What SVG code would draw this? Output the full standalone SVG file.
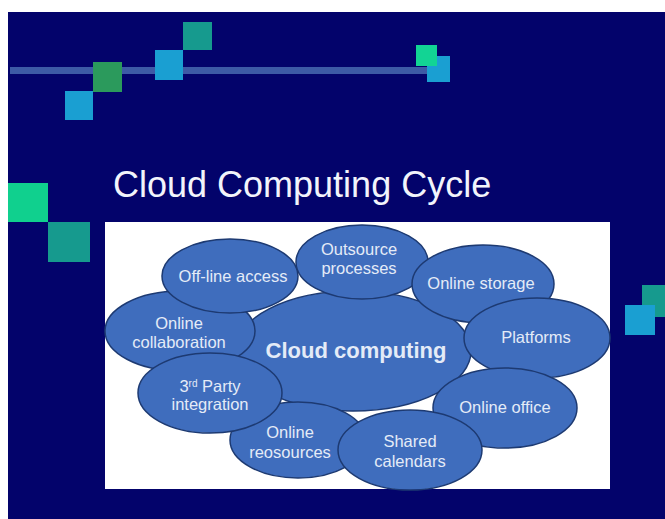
<svg xmlns="http://www.w3.org/2000/svg" width="665" height="519" viewBox="0 0 665 519">
  <style>
    .bubble { fill: #3f6dbd; stroke: #1d3a72; stroke-width: 1.5; }
    .lbl { font-family: "Liberation Sans", Arial, sans-serif; font-size: 16.5px; fill: #e4ebf7; text-anchor: middle; }
    .hub { font-size: 22px; font-weight: bold; }
    .title { font-family: "Liberation Sans", Arial, sans-serif; font-size: 36px; fill: #f2f4fb; }
  </style>

  <!-- slide background -->
  <rect x="0" y="0" width="665" height="519" fill="#ffffff"/>
  <rect x="8" y="12" width="657" height="507" fill="#03036b"/>

  <!-- decorative bar and squares -->
  <g id="decor">
    <rect x="10" y="67" width="430" height="7" fill="#3d5aa6"/>
    <rect x="183" y="22" width="29" height="28" fill="#169a8e"/>
    <rect x="155" y="50" width="28" height="30" fill="#1a9fd2"/>
    <rect x="93" y="62" width="29" height="30" fill="#2b9a5c"/>
    <rect x="65" y="91" width="28" height="29" fill="#1a9fd2"/>
    <rect x="427" y="56" width="23" height="26" fill="#1a9fd2"/>
    <rect x="416" y="45" width="21" height="21" fill="#12d494"/>
    <rect x="8" y="183" width="40" height="39" fill="#10d08e"/>
    <rect x="48" y="222" width="42" height="40" fill="#169a8e"/>
    <rect x="642" y="285" width="23" height="32" fill="#169a8e"/>
    <rect x="625" y="305" width="30" height="30" fill="#1a9fd2"/>
  </g>

  <text class="title" x="113" y="197">Cloud Computing Cycle</text>

  <!-- diagram panel -->
  <rect x="105" y="222" width="505" height="267" fill="#ffffff"/>

  <g id="connectors"></g>

  <g id="cloud-computing">
    <ellipse class="bubble" cx="353" cy="351" rx="118" ry="60"/>
    <text class="lbl hub" x="356" y="358">Cloud computing</text>
  </g>
  <g id="online-collaboration">
    <ellipse class="bubble" cx="180" cy="331" rx="75" ry="40"/>
    <text class="lbl" x="179" y="329">Online</text>
    <text class="lbl" x="179" y="348">collaboration</text>
  </g>
  <g id="off-line-access">
    <ellipse class="bubble" cx="230" cy="276" rx="68" ry="37"/>
    <text class="lbl" x="233" y="282">Off-line access</text>
  </g>
  <g id="outsource-processes">
    <ellipse class="bubble" cx="362" cy="262" rx="66" ry="37"/>
    <text class="lbl" x="359" y="255">Outsource</text>
    <text class="lbl" x="359" y="274">processes</text>
  </g>
  <g id="online-storage">
    <ellipse class="bubble" cx="483" cy="284" rx="71" ry="39"/>
    <text class="lbl" x="481" y="289">Online storage</text>
  </g>
  <g id="platforms">
    <ellipse class="bubble" cx="537" cy="338" rx="73" ry="40"/>
    <text class="lbl" x="536" y="343">Platforms</text>
  </g>
  <g id="online-office">
    <ellipse class="bubble" cx="505" cy="408" rx="72" ry="40"/>
    <text class="lbl" x="505" y="413">Online office</text>
  </g>
  <g id="online-reosources">
    <ellipse class="bubble" cx="298" cy="440" rx="68" ry="38"/>
    <text class="lbl" x="290" y="438">Online</text>
    <text class="lbl" x="290" y="458">reosources</text>
  </g>
  <g id="shared-calendars">
    <ellipse class="bubble" cx="410" cy="450" rx="72" ry="40"/>
    <text class="lbl" x="410" y="447">Shared</text>
    <text class="lbl" x="410" y="467">calendars</text>
  </g>
  <g id="third-party-integration">
    <ellipse class="bubble" cx="210" cy="393" rx="72" ry="40"/>
    <text class="lbl" x="210" y="392">3<tspan font-size="10" baseline-shift="super">rd</tspan> Party</text>
    <text class="lbl" x="210" y="410">integration</text>
  </g>
</svg>
